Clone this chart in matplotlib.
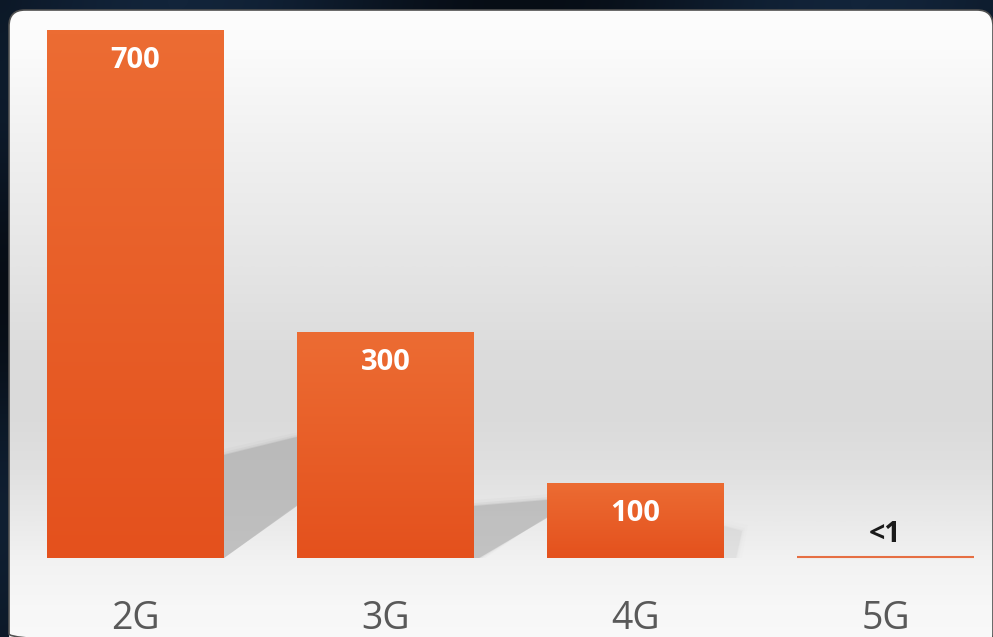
import numpy as np
import matplotlib
matplotlib.use("Agg")
import matplotlib.pyplot as plt
from matplotlib.patches import FancyBboxPatch, Polygon
from matplotlib.colors import LinearSegmentedColormap
import matplotlib.transforms as mtransforms

# ---- data ----
categories = ["2G", "3G", "4G", "5G"]
values = [700, 300, 100, 0.5]
value_labels = ["700", "300", "100", "<1"]

# ---- style ----
W, H, DPI = 993, 637, 100
plt.rcParams['font.family'] = ['Open Sans', 'DejaVu Sans']

fig = plt.figure(figsize=(W / DPI, H / DPI), dpi=DPI)
fig.patch.set_facecolor("#0b1520")

# background layer in pixel coordinates
bg = fig.add_axes([0, 0, 1, 1])
bg.set_xlim(0, W)
bg.set_ylim(H, 0)
bg.axis("off")
yy = np.linspace(0, 1, 64)[:, None]
xx = np.linspace(0, 1, 64)[None, :]
dark = 0.5 + 0.5 * np.sin(xx * 9 + yy * 3) * np.cos(yy * 7)
bg.imshow(dark, extent=(0, W, H, 0), aspect="auto",
          cmap=LinearSegmentedColormap.from_list("d", ["#070d15", "#12243a"]),
          interpolation="bicubic", zorder=0)

panel = FancyBboxPatch((9, 10), 984, 640, boxstyle="round,pad=0,rounding_size=16",
                       facecolor="none", edgecolor="#505050", linewidth=1.2, zorder=2)
bg.add_patch(panel)
stops = [(0.0, "#fdfdfd"), (0.06, "#fbfbfb"), (0.22, "#f0f0f0"), (0.40, "#e5e5e5"),
         (0.53, "#dcdcdc"), (0.63, "#dadada"), (0.72, "#e0e0e0"), (0.80, "#eaeaea"),
         (0.87, "#f3f3f3"), (0.93, "#f7f7f7"), (1.0, "#f9f9f9")]
pcmap = LinearSegmentedColormap.from_list("p", stops)
grad = np.linspace(0, 1, 512)[:, None]
im = bg.imshow(grad, extent=(9, 993, 650, 10), aspect="auto", cmap=pcmap,
               vmin=0, vmax=1, zorder=1, interpolation="bilinear")
im.set_clip_path(panel)

# ---- main axes ----
ax_l, ax_r, ax_b, ax_t = 47, 974, 558, 30
ax = fig.add_axes([ax_l / W, (H - ax_b) / H, (ax_r - ax_l) / W, (ax_b - ax_t) / H])
ax.patch.set_alpha(0)
for s in ax.spines.values():
    s.set_visible(False)
ax.set_xticks([])
ax.set_yticks([])
bw = 0.708
x = np.arange(len(categories))
ax.set_xlim(x[0] - bw / 2, x[-1] + bw / 2)
ax.set_ylim(0, 700)
ax.set_autoscale_on(False)

pxx = (x[-1] + bw - x[0]) / (ax_r - ax_l)   # data units per pixel (x)
pxy = 700 / (ax_b - ax_t)                    # data units per pixel (y)

# soft shadows behind bars (decorative)
shadow_px = [((0, 103), (73, 121), (73, 52), (0, 0)),
             ((0, 52), (73, 58), (73, 40), (5, 0), (0, 0)),
             ((0, 32), (18, 27), (12, 0), (0, 0))]
shadow_alpha = [0.9, 0.85, 0.22]
for i, shp in enumerate(shadow_px):
    xr = x[i] + bw / 2
    for k, (grow, a) in enumerate([(6, 0.08), (3, 0.15), (1, 0.25), (0, 0.5)]):
        pts = []
        for (dx, dy) in shp:
            pts.append((xr + (dx + (grow if dx > 0 else 0)) * pxx,
                        (dy + (grow if dy > 0 else 0)) * pxy))
        ax.add_patch(Polygon(pts, closed=True, facecolor="#a9a9a9", edgecolor="none",
                             alpha=a * shadow_alpha[i], zorder=1))

bars = ax.bar(x, values, width=bw, color="#e85a25", edgecolor="none", zorder=3)
bar_cmap = LinearSegmentedColormap.from_list("b", ["#e4511d", "#ec6c33"])
for b in bars:
    h = b.get_height()
    if h < 5:
        ax.plot([b.get_x(), b.get_x() + bw], [h + 0.6 * pxy, h + 0.6 * pxy],
                color="#e66f43", lw=1.5, solid_capstyle="butt", zorder=5, clip_on=False)
        continue
    g = ax.imshow(np.linspace(0, 1, 128)[:, None], extent=(b.get_x(), b.get_x() + bw, 0, h),
                  origin="lower", aspect="auto", cmap=bar_cmap, zorder=4,
                  interpolation="bilinear")
    g.set_clip_path(b)

for i, (v, lab) in enumerate(zip(values, value_labels)):
    if v < 5:
        ax.annotate(lab, (x[i], v), xytext=(0, 16 * 72 / DPI), textcoords="offset points",
                    ha="center", va="baseline", fontsize=20.5, fontweight="bold",
                    color="#1a1a1a", zorder=6)
    else:
        ax.annotate(lab, (x[i], v), xytext=(0, -38 * 72 / DPI), textcoords="offset points",
                    ha="center", va="baseline", fontsize=21, fontweight="bold",
                    color="white", zorder=6)

trans = mtransforms.blended_transform_factory(ax.transData, ax.transAxes)
for i, c in enumerate(categories):
    ax.text(x[i], -71 / (ax_b - ax_t), c, transform=trans, ha="center", va="baseline",
            fontsize=27, color="#595959", zorder=6)

fig.savefig("out.png", dpi=DPI, facecolor=fig.get_facecolor())
